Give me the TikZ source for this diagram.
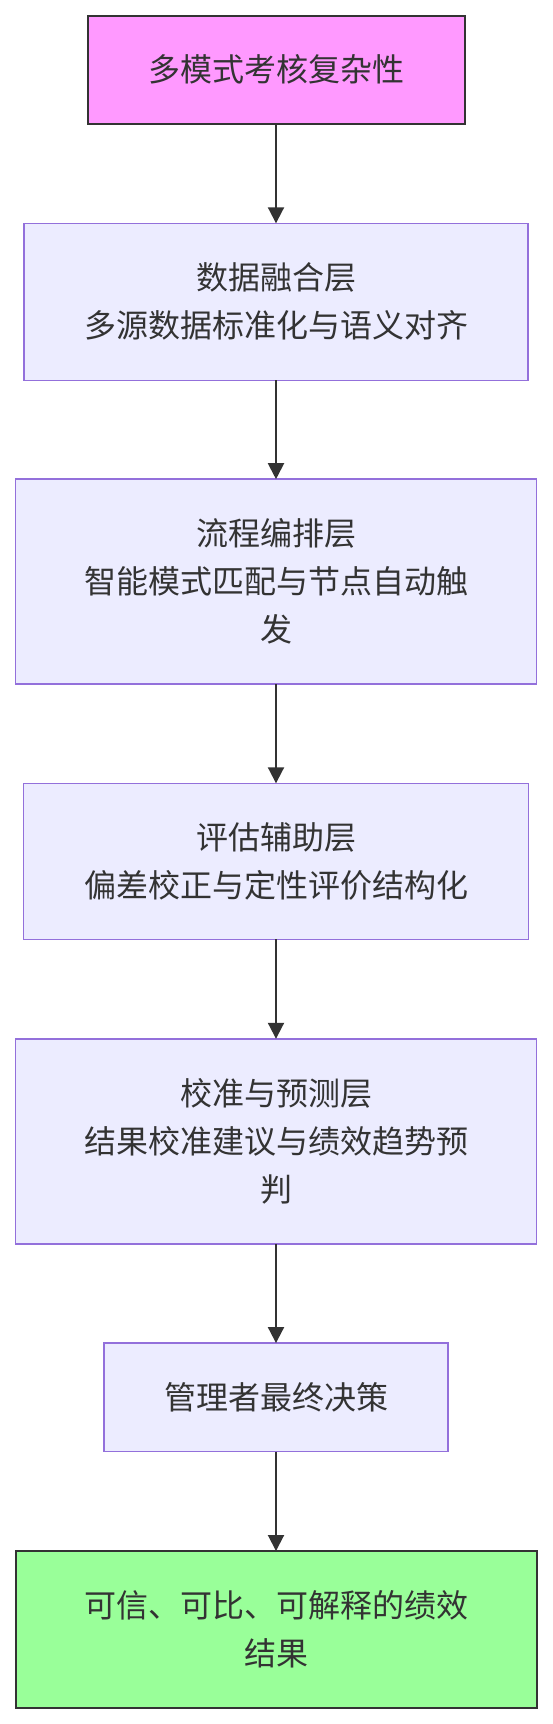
\documentclass[tikz,border=0pt]{standalone}
\usepackage{fontspec}
\newfontfamily\cjk{Noto Sans CJK SC}
\usetikzlibrary{arrows.meta}
\definecolor{txt}{HTML}{333333}
\definecolor{layerfill}{HTML}{ECECFF}
\definecolor{layerline}{HTML}{9370DB}
\definecolor{pinkfill}{HTML}{FF99FF}
\definecolor{greenfill}{HTML}{99FF99}
\begin{document}
\begin{tikzpicture}[x=1pt,y=1pt,
  base/.style={rectangle, inner sep=0pt, outer sep=0pt, align=center,
    font=\cjk\fontsize{32}{48}\selectfont, text=txt},
  layer/.style={base, fill=layerfill, draw=layerline, line width=1.5pt},
  pinkbox/.style={base, fill=pinkfill, draw=txt, line width=2pt},
  greenbox/.style={base, fill=greenfill, draw=txt, line width=2pt},
  flow/.style={draw=txt, line width=2pt, -{Triangle[length=16pt,width=16pt]}}
]
\useasboundingbox (0,0) rectangle (552,-1724);
\node[pinkbox, minimum width=377pt, minimum height=108.5pt] (n1) at (276,-69.75) {多模式考核复杂性};
\node[layer, minimum width=504pt, minimum height=157pt] (n2) at (276,-301.8) {数据融合层\\多源数据标准化与语义对齐};
\node[layer, minimum width=521pt, minimum height=205pt] (n3) at (276,-581.7) {流程编排层\\智能模式匹配与节点自动触\\发};
\node[layer, minimum width=505pt, minimum height=156pt] (n4) at (276,-861.3) {评估辅助层\\偏差校正与定性评价结构化};
\node[layer, minimum width=521pt, minimum height=205pt] (n5) at (276,-1141.3) {校准与预测层\\结果校准建议与绩效趋势预\\判};
\node[layer, minimum width=344pt, minimum height=108.5pt] (n6) at (276,-1397.3) {管理者最终决策};
\node[greenbox, minimum width=521pt, minimum height=157pt] (n7) at (276,-1629.5) {可信、可比、可解释的绩效\\结果};
\draw[flow] (n1.south) -- (n2.north);
\draw[flow] (n2.south) -- (n3.north);
\draw[flow] (n3.south) -- (n4.north);
\draw[flow] (n4.south) -- (n5.north);
\draw[flow] (n5.south) -- (n6.north);
\draw[flow] (n6.south) -- (n7.north);
\end{tikzpicture}
\end{document}
